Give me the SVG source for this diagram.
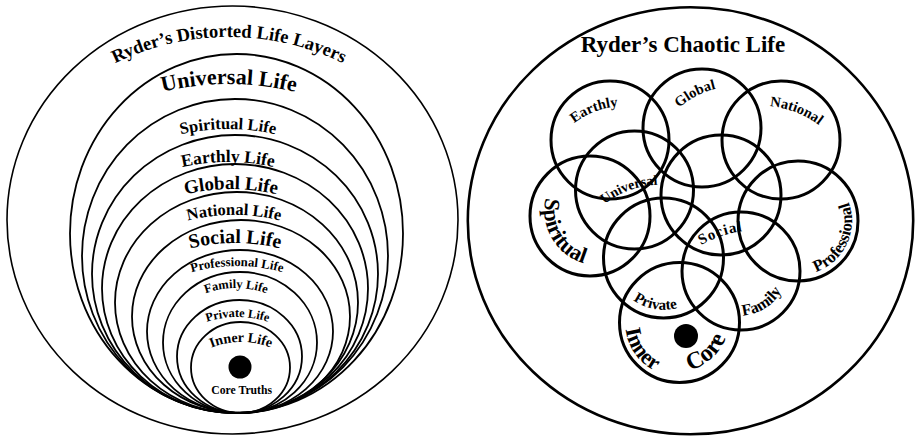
<svg xmlns="http://www.w3.org/2000/svg" xmlns:xlink="http://www.w3.org/1999/xlink" width="916" height="436" viewBox="0 0 916 436">
<style>
.t{font-family:"Liberation Serif","Times New Roman",serif;font-weight:bold;fill:#000}
.l{fill:none;stroke:#000;stroke-width:1.8}
.lo{fill:none;stroke:#000;stroke-width:1.6}
.r{fill:none;stroke:#000;stroke-width:3}
.ro{fill:none;stroke:#000;stroke-width:2.6}
</style>
<defs>
<path id="pT" d="M3.8,167 A260,260 0 0 1 454.2,167"/>
<path id="pU" d="M31,166 A280,280 0 0 1 427,166"/>
<path id="pS" d="M79.5,190.5 A210,210 0 0 1 376.5,190.5"/>
<path id="pE" d="M79.5,223.5 A210,210 0 0 1 376.5,223.5"/>
<path id="pG" d="M89.6,247.6 A200,200 0 0 1 372.4,247.6"/>
<path id="pN" d="M99.6,270.6 A190,190 0 0 1 368.4,270.6"/>
<path id="pSo" d="M107.7,295.7 A180,180 0 0 1 362.3,295.7"/>
<path id="pP" d="M116.8,315.8 A170,170 0 0 1 357.2,315.8"/>
<path id="pF" d="M158.1,333 A90,90 0 0 1 313.9,333"/>
<path id="pPr" d="M150.9,367 A100,100 0 0 1 324.1,367"/>
<path id="pI" d="M171.7,382 A80,80 0 0 1 310.3,382"/>
<path id="qE" d="M543.8,174.6 A81,81 0 0 1 674.8,124.4"/>
<path id="qG" d="M651.1,166.8 A84,84 0 0 1 780.1,99.7"/>
<path id="qN" d="M701.9,127.1 A95,95 0 0 1 855.5,186"/>
<path id="qU" d="M569.7,261.5 A93,93 0 0 1 721.1,206.4"/>
<path id="qSo" d="M641.8,325.8 A120,120 0 0 1 839,260.2"/>
<path id="qSp" d="M559.6,172.6 A55,55 0 0 0 612.4,264"/>
<path id="qPf" d="M779.5,271.7 A54,54 0 0 0 825,174.2"/>
<path id="qF" d="M702,300 A50,50 0 0 0 785,247.5"/>
<path id="qPr" d="M611.7,253.5 A52,52 0 0 0 713.7,271.5"/>
<path id="qI" d="M644.8,281.1 A54,54 0 0 0 706.5,369.3"/>
<path id="qC" d="M642.7,362 A55,55 0 0 0 722.6,290"/>
</defs>
<g id="left-diagram">
<g id="outer-layers">
<ellipse class="lo" cx="232.5" cy="220" rx="225.5" ry="214"/>
<text class="t" font-size="18.5"><textPath xlink:href="#pT" href="#pT" startOffset="50%" text-anchor="middle">Ryder’s Distorted Life Layers</textPath></text>
</g>
<g id="universal-life">
<ellipse class="l" cx="236.5" cy="233.5" rx="166.5" ry="179.5"/>
<text class="t" font-size="22"><textPath href="#pU" startOffset="50%" text-anchor="middle">Universal Life</textPath></text>
</g>
<g id="spiritual-life">
<ellipse class="l" cx="235" cy="256" rx="153" ry="157"/>
<text class="t" font-size="16.5"><textPath href="#pS" startOffset="50%" text-anchor="middle">Spiritual Life</textPath></text>
</g>
<g id="earthly-life">
<ellipse class="l" cx="235" cy="274" rx="143" ry="139"/>
<text class="t" font-size="17.5"><textPath href="#pE" startOffset="50%" text-anchor="middle">Earthly Life</textPath></text>
</g>
<g id="global-life">
<ellipse class="l" cx="235" cy="288.5" rx="133" ry="124.5"/>
<text class="t" font-size="19"><textPath href="#pG" startOffset="50%" text-anchor="middle">Global Life</textPath></text>
</g>
<g id="national-life">
<ellipse class="l" cx="236.5" cy="302.5" rx="121.5" ry="110.5"/>
<text class="t" font-size="16.5"><textPath href="#pN" startOffset="50%" text-anchor="middle">National Life</textPath></text>
</g>
<g id="social-life">
<ellipse class="l" cx="241" cy="316.5" rx="109" ry="96.5"/>
<text class="t" font-size="20"><textPath href="#pSo" startOffset="50%" text-anchor="middle">Social Life</textPath></text>
</g>
<g id="professional-life">
<ellipse class="l" cx="240" cy="331.5" rx="93" ry="81.5"/>
<text class="t" font-size="12.8"><textPath href="#pP" startOffset="50%" text-anchor="middle">Professional Life</textPath></text>
</g>
<g id="family-life">
<ellipse class="l" cx="240" cy="342.5" rx="77" ry="70.5"/>
<text class="t" font-size="12.5"><textPath href="#pF" startOffset="50%" text-anchor="middle">Family Life</textPath></text>
</g>
<g id="private-life">
<ellipse class="l" cx="239.5" cy="356.5" rx="62.5" ry="56.5"/>
<text class="t" font-size="12.3"><textPath href="#pPr" startOffset="50%" text-anchor="middle">Private Life</textPath></text>
</g>
<g id="inner-life">
<ellipse class="l" cx="240.5" cy="367.5" rx="49.5" ry="45.5"/>
<text class="t" font-size="14"><textPath href="#pI" startOffset="50%" text-anchor="middle">Inner Life</textPath></text>
</g>
<g id="core-truths">
<circle cx="240" cy="367" r="11.5" fill="#000"/>
<text class="t" font-size="11.7" x="241.7" y="394" text-anchor="middle">Core Truths</text>
</g>
</g>
<g id="right-diagram">
<g id="chaotic-life">
<ellipse class="ro" cx="690.5" cy="220.8" rx="222.7" ry="213.5"/>
<text class="t" font-size="23" x="683" y="52" text-anchor="middle">Ryder’s Chaotic Life</text>
</g>
<g id="earthly"><circle class="r" cx="610" cy="140" r="59"/><text class="t" font-size="14.5"><textPath href="#qE" startOffset="50%" text-anchor="middle">Earthly</textPath></text></g>
<g id="global"><circle class="r" cx="702" cy="128" r="59"/><text class="t" font-size="14.5"><textPath href="#qG" startOffset="50%" text-anchor="middle">Global</textPath></text></g>
<g id="national"><circle class="r" cx="781" cy="140" r="59"/><text class="t" font-size="14.5"><textPath href="#qN" startOffset="50%" text-anchor="middle">National</textPath></text></g>
<g id="universal"><circle class="r" cx="634.5" cy="190" r="59"/><text class="t" font-size="14"><textPath href="#qU" startOffset="50%" text-anchor="middle">Universal</textPath></text></g>
<g id="social"><circle class="r" cx="721" cy="195" r="60"/><text class="t" font-size="15" letter-spacing="1"><textPath href="#qSo" startOffset="50%" text-anchor="middle">Social</textPath></text></g>
<g id="spiritual"><circle class="r" cx="590" cy="216" r="60"/><text class="t" font-size="22"><textPath href="#qSp" startOffset="50%" text-anchor="middle">Spiritual</textPath></text></g>
<g id="professional"><circle class="r" cx="798" cy="221" r="60"/><text class="t" font-size="16.5"><textPath href="#qPf" startOffset="50%" text-anchor="middle">Professional</textPath></text></g>
<g id="private"><circle class="r" cx="663.5" cy="258" r="60"/><text class="t" font-size="15"><textPath href="#qPr" startOffset="50%" text-anchor="middle">Private</textPath></text></g>
<g id="family"><circle class="r" cx="741" cy="271" r="59"/><text class="t" font-size="16"><textPath href="#qF" startOffset="50%" text-anchor="middle">Family</textPath></text></g>
<g id="inner-core"><circle class="r" cx="679.5" cy="322.5" r="60"/><circle cx="686" cy="336" r="12" fill="#000"/><text class="t" font-size="22"><textPath href="#qI" startOffset="50%" text-anchor="middle">Inner</textPath></text><text class="t" font-size="24"><textPath href="#qC" startOffset="50%" text-anchor="middle">Core</textPath></text></g>
</g>
</svg>
